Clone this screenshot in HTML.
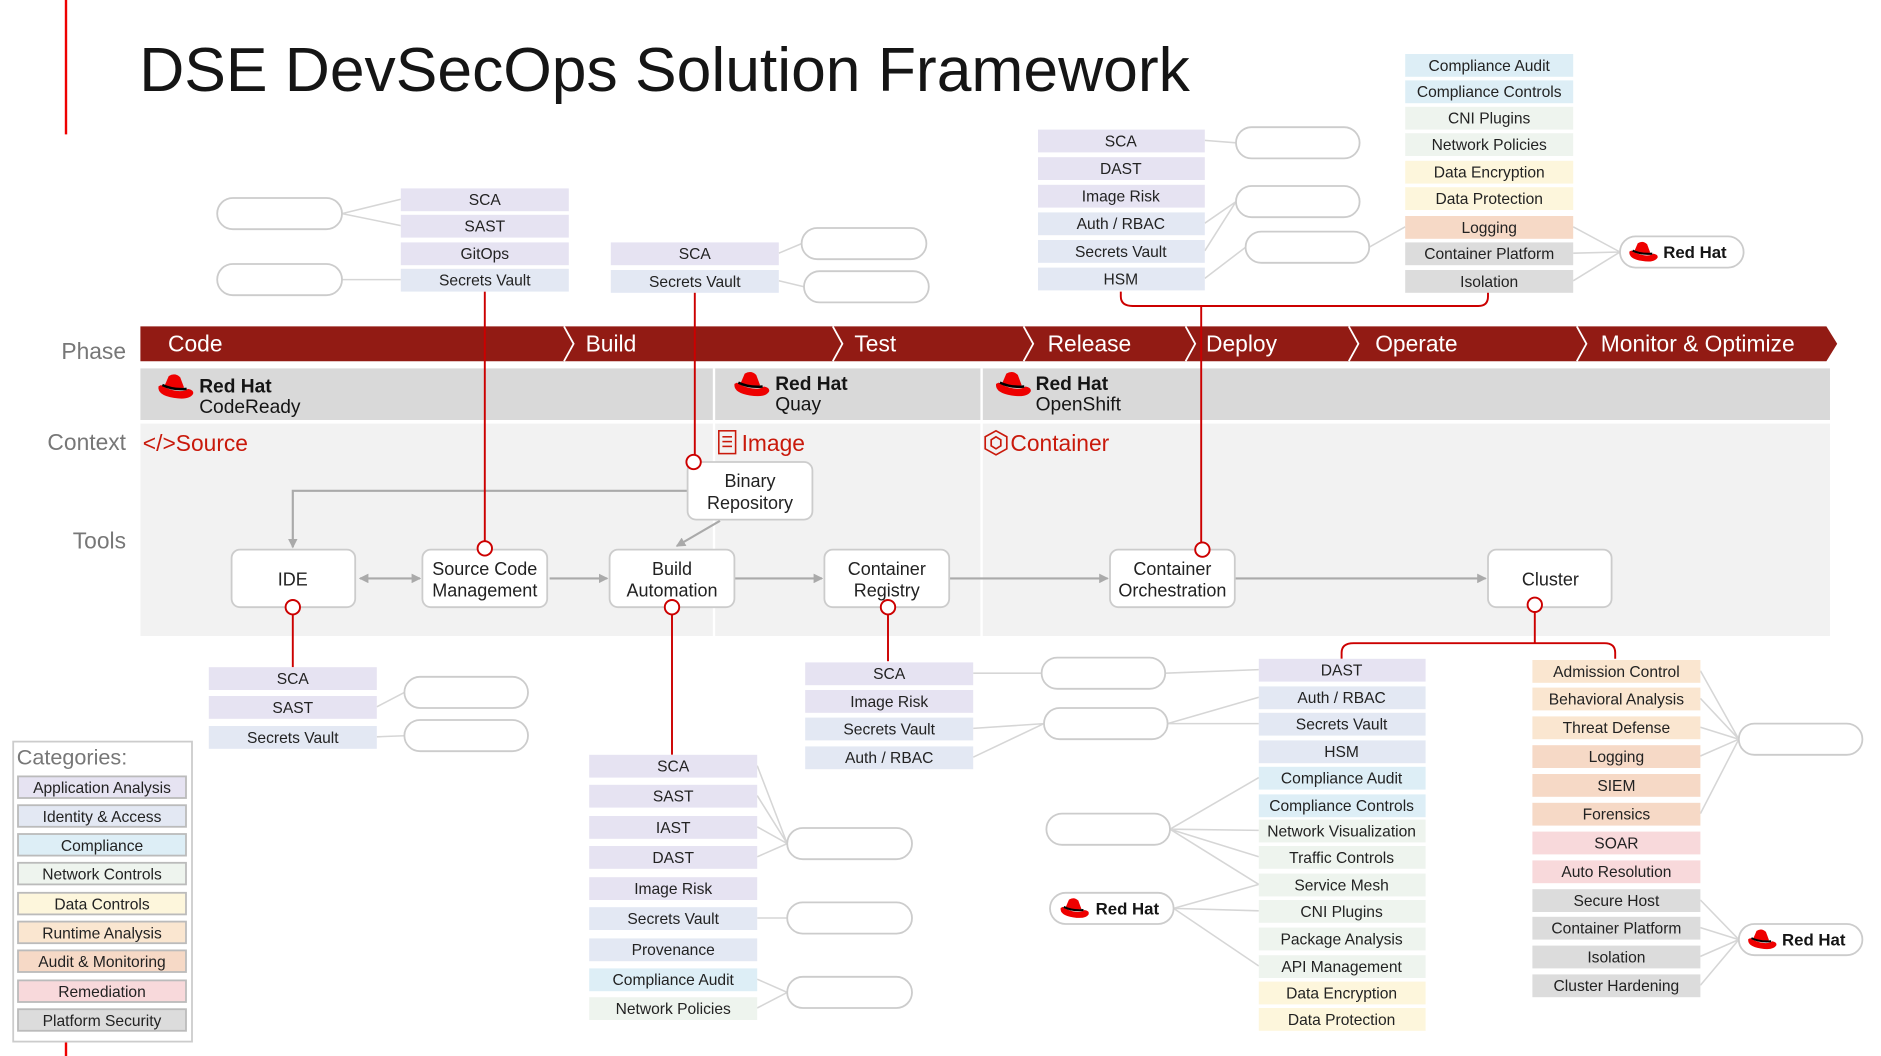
<!DOCTYPE html>
<html><head><meta charset="utf-8"><style>
html,body{margin:0;padding:0;background:#fff}
svg{display:block;font-family:"Liberation Sans",sans-serif}
.l{font-size:13px;fill:#222;text-anchor:middle}
.a{fill:#e6e3f2}.i{fill:#e3e8f3}.c{fill:#ddeef6}.n{fill:#eef4ee}.d{fill:#fdf6dc}.r{fill:#fae6d0}.m{fill:#f6d9c6}.e{fill:#f8d9db}.p{fill:#dcdcdc}
.pill{fill:#fff;stroke:#ccc;stroke-width:1.5}
.g{stroke:#d6d6d6;stroke-width:1.3;fill:none}
.ar{stroke:#aaa;stroke-width:1.8;fill:none}
.rl{stroke:#c00;stroke-width:1.6;fill:none}
.cir{fill:#fff;stroke:#c00;stroke-width:1.6}
.node{fill:#fff;stroke:#ccc;stroke-width:1.5}
.nt{font-size:15px;fill:#222;text-anchor:middle}
.ph{font-size:19px;fill:#fff}
.side{font-size:19px;fill:#777;text-anchor:end}
</style></head><body>
<svg width="1881" height="1056" viewBox="0 0 1567.5 880" xmlns="http://www.w3.org/2000/svg">
<defs>
<symbol id="hat" viewBox="0 0 30 24">
<path d="M9 3 Q14 0 18 4 L21 12 Q13 14 6 10 Z" fill="#e00"/>
<path d="M1 11 Q0 18 13 20 Q25 22 28 17 Q29 14 24 13 Q20 16 12 14 Q5 12 3 10 Z" fill="#e00"/>
<path d="M4 10 Q12 14 23 13" stroke="#000" stroke-width="2" fill="none"/>
</symbol>
<marker id="arr" markerWidth="8" markerHeight="8" refX="7" refY="4" orient="auto-start-reverse" markerUnits="userSpaceOnUse"><path d="M0 0 L8 4 L0 8 Z" fill="#aaa"/></marker>
</defs>
<line x1="55" y1="0" x2="55" y2="112" stroke="#e00" stroke-width="2"/>
<line x1="55" y1="868" x2="55" y2="880" stroke="#e00" stroke-width="2"/>
<text x="116" y="76" font-size="52" fill="#151515">DSE DevSecOps Solution Framework</text>

<!-- context area -->
<rect x="117" y="353" width="1408" height="177" fill="#f2f2f2"/>
<rect x="117" y="307" width="1408" height="43" fill="#d9d9d9"/>
<line x1="595" y1="307" x2="595" y2="530" stroke="#fff" stroke-width="2"/>
<line x1="818" y1="307" x2="818" y2="530" stroke="#fff" stroke-width="2"/>
<!-- phase bar -->
<path d="M117 272 H1522 L1531 286.5 L1522 301 H117 Z" fill="#921b14"/>
<g stroke="#fff" stroke-width="1.5" fill="none">
<path d="M470 272 L478 286.5 L470 301"/><path d="M694 272 L702 286.5 L694 301"/><path d="M853 272 L861 286.5 L853 301"/><path d="M988 272 L996 286.5 L988 301"/><path d="M1124 272 L1132 286.5 L1124 301"/><path d="M1314 272 L1322 286.5 L1314 301"/>
</g>
<text class="ph" x="140" y="293">Code</text><text class="ph" x="488" y="293">Build</text><text class="ph" x="712" y="293">Test</text><text class="ph" x="873" y="293">Release</text><text class="ph" x="1005" y="293">Deploy</text><text class="ph" x="1146" y="293">Operate</text><text class="ph" x="1334" y="293">Monitor &amp; Optimize</text>
<text class="side" x="105" y="299">Phase</text><text class="side" x="105" y="375">Context</text><text class="side" x="105" y="457">Tools</text>

<!-- products -->
<use href="#hat" x="131" y="310" width="32" height="26"/>
<text x="166" y="327" font-size="16" font-weight="bold" fill="#151515">Red Hat</text><text x="166" y="344" font-size="16" fill="#151515">CodeReady</text>
<use href="#hat" x="611" y="308" width="32" height="26"/>
<text x="646" y="325" font-size="16" font-weight="bold" fill="#151515">Red Hat</text><text x="646" y="342" font-size="16" fill="#151515">Quay</text>
<use href="#hat" x="829" y="308" width="32" height="26"/>
<text x="863" y="325" font-size="16" font-weight="bold" fill="#151515">Red Hat</text><text x="863" y="342" font-size="16" fill="#151515">OpenShift</text>
<!-- context labels -->
<text x="119" y="376" font-size="19" fill="#c9190b">&lt;/&gt;Source</text>
<g stroke="#c9190b" stroke-width="1.3" fill="none"><rect x="599" y="359" width="14" height="19"/><line x1="602" y1="364" x2="610" y2="364"/><line x1="602" y1="368" x2="610" y2="368"/><line x1="602" y1="372" x2="610" y2="372"/></g>
<text x="618" y="376" font-size="19" fill="#c9190b">Image</text>
<path d="M830 359 L839 364 L839 374 L830 379 L821 374 L821 364 Z M830 364 L834 366.5 L834 371.5 L830 374 L826 371.5 L826 366.5 Z" stroke="#c9190b" stroke-width="1.4" fill="none"/>
<text x="842" y="376" font-size="19" fill="#c9190b">Container</text>

<!-- gray arrows -->
<line class="ar" x1="300" y1="482" x2="350" y2="482" marker-start="url(#arr)" marker-end="url(#arr)"/>
<line class="ar" x1="458" y1="482" x2="506" y2="482" marker-end="url(#arr)"/>
<line class="ar" x1="612" y1="482" x2="685" y2="482" marker-end="url(#arr)"/>
<line class="ar" x1="791" y1="482" x2="923" y2="482" marker-end="url(#arr)"/>
<line class="ar" x1="1029" y1="482" x2="1238" y2="482" marker-end="url(#arr)"/>
<path class="ar" d="M573 409 H244 V456" marker-end="url(#arr)"/>
<line class="ar" x1="600" y1="434" x2="564" y2="455" marker-end="url(#arr)"/>

<!-- nodes -->
<rect class="node" x="193" y="458" width="103" height="48" rx="7"/><text class="nt" x="244" y="488">IDE</text>
<rect class="node" x="352" y="458" width="104" height="48" rx="7"/><text class="nt" x="404" y="479">Source Code</text><text class="nt" x="404" y="497">Management</text>
<rect class="node" x="508" y="458" width="104" height="48" rx="7"/><text class="nt" x="560" y="479">Build</text><text class="nt" x="560" y="497">Automation</text>
<rect class="node" x="687" y="458" width="104" height="48" rx="7"/><text class="nt" x="739" y="479">Container</text><text class="nt" x="739" y="497">Registry</text>
<rect class="node" x="925" y="458" width="104" height="48" rx="7"/><text class="nt" x="977" y="479">Container</text><text class="nt" x="977" y="497">Orchestration</text>
<rect class="node" x="1240" y="458" width="103" height="48" rx="7"/><text class="nt" x="1292" y="488">Cluster</text>
<rect class="node" x="573" y="385" width="104" height="48" rx="7"/><text class="nt" x="625" y="406">Binary</text><text class="nt" x="625" y="424">Repository</text>

<!-- red lines -->
<line class="rl" x1="404" y1="243" x2="404" y2="451"/>
<line class="rl" x1="579" y1="243" x2="579" y2="379"/>
<path class="rl" d="M934 243 V247 Q934 255 944 255 H1232 Q1240 255 1240 247 V243"/>
<line class="rl" x1="1001" y1="255" x2="1001" y2="452"/>
<line class="rl" x1="244" y1="512" x2="244" y2="556"/>
<line class="rl" x1="560" y1="512" x2="560" y2="629"/>
<line class="rl" x1="740" y1="512" x2="740" y2="551"/>
<path class="rl" d="M1279 510 V536 M1118 549 V544 Q1118 536 1128 536 H1337 Q1346 536 1346 544 V549"/>
<circle class="cir" cx="404" cy="457" r="6"/><circle class="cir" cx="578" cy="385" r="6"/><circle class="cir" cx="244" cy="506" r="6"/><circle class="cir" cx="560" cy="506" r="6"/><circle class="cir" cx="740" cy="506" r="6"/><circle class="cir" cx="1002" cy="458" r="6"/><circle class="cir" cx="1279" cy="504" r="6"/>

<!-- gray connector lines -->
<g class="g">
<path d="M285 178 L334 166 M285 178 L334 188 M285 233 L334 233"/>
<path d="M649 211 L668 203 M649 234 L670 239"/>
<path d="M1004 117 L1030 119 M1004 186 L1030 168 M1004 209 L1030 168 M1004 232 L1038 206"/>
<path d="M1311 189 L1350 210 M1311 211 L1350 210 M1311 234 L1350 210 M1171 189 L1141 206"/>
<path d="M314 589 L337 577 M314 614 L340 613"/>
<path d="M631 638 L656 703 M631 663 L656 703 M631 689 L656 703 M631 714 L656 703 M631 765 L656 765 M631 816 L656 827 M631 840 L656 827"/>
<path d="M811 561 L868 561 M811 607 L870 603 M811 631 L870 603"/>
<path d="M971 561 L1049 558 M973 603 L1049 581 M973 603 L1049 603"/>
<path d="M975 691 L1049 648 M975 691 L1049 692 M975 691 L1049 714 M975 691 L1049 737 M978 757 L1049 737 M978 757 L1049 759 M978 757 L1049 805"/>
<path d="M1417 559 L1449 616 M1417 582 L1449 616 M1417 606 L1449 616 M1417 630 L1449 616 M1417 678 L1449 616"/>
<path d="M1417 750 L1449 783 M1417 773 L1449 783 M1417 797 L1449 783 M1417 821 L1449 783"/>
</g>

<!-- pills -->
<rect class="pill" x="181" y="165" width="104" height="26" rx="13"/>
<rect class="pill" x="181" y="220" width="104" height="26" rx="13"/>
<rect class="pill" x="668" y="190" width="104" height="26" rx="13"/>
<rect class="pill" x="670" y="226" width="104" height="26" rx="13"/>
<rect class="pill" x="1030" y="106" width="103" height="26" rx="13"/>
<rect class="pill" x="1030" y="155" width="103" height="26" rx="13"/>
<rect class="pill" x="1038" y="193" width="103" height="26" rx="13"/>
<rect class="pill" x="337" y="564" width="103" height="26" rx="13"/>
<rect class="pill" x="337" y="600" width="103" height="26" rx="13"/>
<rect class="pill" x="656" y="690" width="104" height="26" rx="13"/>
<rect class="pill" x="656" y="752" width="104" height="26" rx="13"/>
<rect class="pill" x="656" y="814" width="104" height="26" rx="13"/>
<rect class="pill" x="868" y="548" width="103" height="26" rx="13"/>
<rect class="pill" x="870" y="590" width="103" height="26" rx="13"/>
<rect class="pill" x="872" y="678" width="103" height="26" rx="13"/>
<rect class="pill" x="1449" y="603" width="103" height="26" rx="13"/>
<rect class="pill" x="1350" y="197" width="103" height="26" rx="13"/>
<use href="#hat" x="1357" y="200" width="26" height="21"/><text x="1386" y="215" font-size="14" font-weight="bold" fill="#151515">Red Hat</text>
<rect class="pill" x="875" y="744" width="103" height="26" rx="13"/>
<use href="#hat" x="883" y="747" width="26" height="21"/><text x="913" y="762" font-size="14" font-weight="bold" fill="#151515">Red Hat</text>
<rect class="pill" x="1449" y="770" width="103" height="26" rx="13"/>
<use href="#hat" x="1456" y="773" width="26" height="21"/><text x="1485" y="788" font-size="14" font-weight="bold" fill="#151515">Red Hat</text>

<!-- label boxes: top-left -->
<rect class="a" x="334" y="157" width="140" height="19"/><text class="l" x="404" y="171">SCA</text>
<rect class="a" x="334" y="179" width="140" height="19"/><text class="l" x="404" y="193">SAST</text>
<rect class="a" x="334" y="202" width="140" height="19"/><text class="l" x="404" y="216">GitOps</text>
<rect class="i" x="334" y="224" width="140" height="19"/><text class="l" x="404" y="238">Secrets Vault</text>
<rect class="a" x="509" y="202" width="140" height="19"/><text class="l" x="579" y="216">SCA</text>
<rect class="i" x="509" y="225" width="140" height="19"/><text class="l" x="579" y="239">Secrets Vault</text>
<!-- release -->
<rect class="a" x="865" y="108" width="139" height="19"/><text class="l" x="934" y="122">SCA</text>
<rect class="a" x="865" y="131" width="139" height="19"/><text class="l" x="934" y="145">DAST</text>
<rect class="a" x="865" y="154" width="139" height="19"/><text class="l" x="934" y="168">Image Risk</text>
<rect class="i" x="865" y="177" width="139" height="19"/><text class="l" x="934" y="191">Auth / RBAC</text>
<rect class="i" x="865" y="200" width="139" height="19"/><text class="l" x="934" y="214">Secrets Vault</text>
<rect class="i" x="865" y="223" width="139" height="19"/><text class="l" x="934" y="237">HSM</text>
<!-- deploy -->
<rect class="c" x="1171" y="45" width="140" height="19"/><text class="l" x="1241" y="59">Compliance Audit</text>
<rect class="c" x="1171" y="67" width="140" height="19"/><text class="l" x="1241" y="81">Compliance Controls</text>
<rect class="n" x="1171" y="89" width="140" height="19"/><text class="l" x="1241" y="103">CNI Plugins</text>
<rect class="n" x="1171" y="111" width="140" height="19"/><text class="l" x="1241" y="125">Network Policies</text>
<rect class="d" x="1171" y="134" width="140" height="19"/><text class="l" x="1241" y="148">Data Encryption</text>
<rect class="d" x="1171" y="156" width="140" height="19"/><text class="l" x="1241" y="170">Data Protection</text>
<rect class="m" x="1171" y="180" width="140" height="19"/><text class="l" x="1241" y="194">Logging</text>
<rect class="p" x="1171" y="202" width="140" height="19"/><text class="l" x="1241" y="216">Container Platform</text>
<rect class="p" x="1171" y="225" width="140" height="19"/><text class="l" x="1241" y="239">Isolation</text>
<!-- IDE -->
<rect class="a" x="174" y="556" width="140" height="19"/><text class="l" x="244" y="570">SCA</text>
<rect class="a" x="174" y="580" width="140" height="19"/><text class="l" x="244" y="594">SAST</text>
<rect class="i" x="174" y="605" width="140" height="19"/><text class="l" x="244" y="619">Secrets Vault</text>
<!-- build -->
<rect class="a" x="491" y="629" width="140" height="19"/><text class="l" x="561" y="643">SCA</text>
<rect class="a" x="491" y="654" width="140" height="19"/><text class="l" x="561" y="668">SAST</text>
<rect class="a" x="491" y="680" width="140" height="19"/><text class="l" x="561" y="694">IAST</text>
<rect class="a" x="491" y="705" width="140" height="19"/><text class="l" x="561" y="719">DAST</text>
<rect class="a" x="491" y="731" width="140" height="19"/><text class="l" x="561" y="745">Image Risk</text>
<rect class="i" x="491" y="756" width="140" height="19"/><text class="l" x="561" y="770">Secrets Vault</text>
<rect class="i" x="491" y="782" width="140" height="19"/><text class="l" x="561" y="796">Provenance</text>
<rect class="c" x="491" y="807" width="140" height="19"/><text class="l" x="561" y="821">Compliance Audit</text>
<rect class="n" x="491" y="831" width="140" height="19"/><text class="l" x="561" y="845">Network Policies</text>
<!-- registry -->
<rect class="a" x="671" y="552" width="140" height="19"/><text class="l" x="741" y="566">SCA</text>
<rect class="a" x="671" y="575" width="140" height="19"/><text class="l" x="741" y="589">Image Risk</text>
<rect class="i" x="671" y="598" width="140" height="19"/><text class="l" x="741" y="612">Secrets Vault</text>
<rect class="i" x="671" y="622" width="140" height="19"/><text class="l" x="741" y="636">Auth / RBAC</text>
<!-- cluster A -->
<rect class="a" x="1049" y="549" width="139" height="19"/><text class="l" x="1118" y="563">DAST</text>
<rect class="i" x="1049" y="572" width="139" height="19"/><text class="l" x="1118" y="586">Auth / RBAC</text>
<rect class="i" x="1049" y="594" width="139" height="19"/><text class="l" x="1118" y="608">Secrets Vault</text>
<rect class="i" x="1049" y="617" width="139" height="19"/><text class="l" x="1118" y="631">HSM</text>
<rect class="c" x="1049" y="639" width="139" height="19"/><text class="l" x="1118" y="653">Compliance Audit</text>
<rect class="c" x="1049" y="662" width="139" height="19"/><text class="l" x="1118" y="676">Compliance Controls</text>
<rect class="n" x="1049" y="683" width="139" height="19"/><text class="l" x="1118" y="697">Network Visualization</text>
<rect class="n" x="1049" y="705" width="139" height="19"/><text class="l" x="1118" y="719">Traffic Controls</text>
<rect class="n" x="1049" y="728" width="139" height="19"/><text class="l" x="1118" y="742">Service Mesh</text>
<rect class="n" x="1049" y="750" width="139" height="19"/><text class="l" x="1118" y="764">CNI Plugins</text>
<rect class="n" x="1049" y="773" width="139" height="19"/><text class="l" x="1118" y="787">Package Analysis</text>
<rect class="n" x="1049" y="796" width="139" height="19"/><text class="l" x="1118" y="810">API Management</text>
<rect class="d" x="1049" y="818" width="139" height="19"/><text class="l" x="1118" y="832">Data Encryption</text>
<rect class="d" x="1049" y="840" width="139" height="19"/><text class="l" x="1118" y="854">Data Protection</text>
<!-- cluster B -->
<rect class="r" x="1277" y="550" width="140" height="19"/><text class="l" x="1347" y="564">Admission Control</text>
<rect class="r" x="1277" y="573" width="140" height="19"/><text class="l" x="1347" y="587">Behavioral Analysis</text>
<rect class="r" x="1277" y="597" width="140" height="19"/><text class="l" x="1347" y="611">Threat Defense</text>
<rect class="m" x="1277" y="621" width="140" height="19"/><text class="l" x="1347" y="635">Logging</text>
<rect class="m" x="1277" y="645" width="140" height="19"/><text class="l" x="1347" y="659">SIEM</text>
<rect class="m" x="1277" y="669" width="140" height="19"/><text class="l" x="1347" y="683">Forensics</text>
<rect class="e" x="1277" y="693" width="140" height="19"/><text class="l" x="1347" y="707">SOAR</text>
<rect class="e" x="1277" y="717" width="140" height="19"/><text class="l" x="1347" y="731">Auto Resolution</text>
<rect class="p" x="1277" y="741" width="140" height="19"/><text class="l" x="1347" y="755">Secure Host</text>
<rect class="p" x="1277" y="764" width="140" height="19"/><text class="l" x="1347" y="778">Container Platform</text>
<rect class="p" x="1277" y="788" width="140" height="19"/><text class="l" x="1347" y="802">Isolation</text>
<rect class="p" x="1277" y="812" width="140" height="19"/><text class="l" x="1347" y="826">Cluster Hardening</text>

<!-- legend -->
<rect x="11" y="618" width="149" height="250" fill="#fff" stroke="#ccc" stroke-width="1.5"/>
<text x="14" y="637" font-size="18" fill="#777">Categories:</text>
<g stroke="#bbb" stroke-width="1.5">
<rect class="a" x="15" y="647" width="140" height="18"/><rect class="i" x="15" y="671" width="140" height="18"/><rect class="c" x="15" y="695" width="140" height="18"/><rect class="n" x="15" y="719" width="140" height="18"/><rect class="d" x="15" y="744" width="140" height="18"/><rect class="r" x="15" y="768" width="140" height="18"/><rect class="m" x="15" y="792" width="140" height="18"/><rect class="e" x="15" y="817" width="140" height="18"/><rect class="p" x="15" y="841" width="140" height="18"/>
</g>
<text class="l" x="85" y="661">Application Analysis</text><text class="l" x="85" y="685">Identity &amp; Access</text><text class="l" x="85" y="709">Compliance</text><text class="l" x="85" y="733">Network Controls</text><text class="l" x="85" y="758">Data Controls</text><text class="l" x="85" y="782">Runtime Analysis</text><text class="l" x="85" y="806">Audit &amp; Monitoring</text><text class="l" x="85" y="831">Remediation</text><text class="l" x="85" y="855">Platform Security</text>
</svg>
</body></html>
